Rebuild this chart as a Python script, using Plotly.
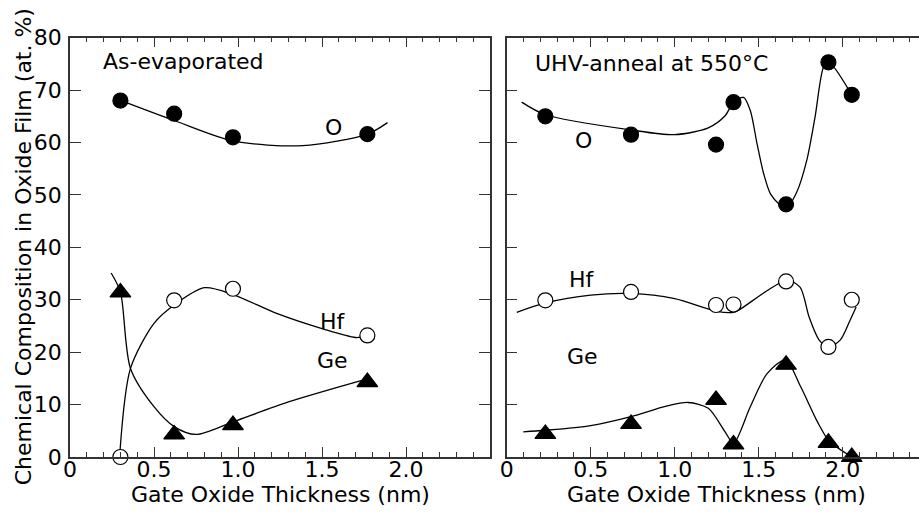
import plotly.graph_objects as go

# ---------------- data ----------------
# Left panel: as-evaporated
L_x = [0.30, 0.62, 0.97, 1.77]
L_O = [68.0, 65.5, 61.0, 61.6]
L_Hf = [0.0, 29.9, 32.1, 23.2]
L_Ge = [31.4, 4.3, 6.1, 14.3]

# fitted guide curves, left panel
L_O_fit_x = [0.32, 0.62, 0.97, 1.385, 1.77, 1.89]
L_O_fit_y = [67.8, 64.2, 60.3, 59.4, 61.6, 63.8]
L_Hf_fit_x = [0.298, 0.36, 0.50, 0.62, 0.80, 0.97, 1.23, 1.50, 1.70, 1.77]
L_Hf_fit_y = [1.3, 16.9, 25.5, 29.0, 32.3, 31.0, 27.4, 24.5, 22.8, 23.1]
L_Ge_fit_x = [0.245, 0.30, 0.36, 0.50, 0.62, 0.75, 0.97, 1.30, 1.78]
L_Ge_fit_y = [35.1, 31.5, 16.9, 9.6, 5.8, 4.3, 6.7, 10.5, 15.0]

# Right panel: UHV-anneal at 550 C
R_x = [0.23, 0.74, 1.246, 1.35, 1.663, 1.915, 2.054]
R_O = [65.0, 61.5, 59.6, 67.7, 48.2, 75.3, 69.1]
R_Hf = [29.9, 31.5, 29.0, 29.1, 33.5, 21.0, 30.0]
R_Ge = [4.4, 6.3, 10.9, 2.4, 17.6, 2.7, 0.0]

R_O_fit_x = [0.089, 0.23, 0.74, 1.00, 1.20, 1.30, 1.35, 1.41, 1.45, 1.49, 1.53,
             1.57, 1.63, 1.663, 1.726, 1.786, 1.835, 1.885, 1.915, 2.054]
R_O_fit_y = [67.7, 65.3, 62.4, 61.5, 62.8, 65.1, 67.7, 68.6, 66.1, 59.8, 54.0,
             50.2, 48.0, 47.4, 50.5, 56.6, 64.8, 74.3, 75.4, 69.1]
R_Hf_fit_x = [0.06, 0.23, 0.50, 0.74, 1.00, 1.25, 1.35, 1.38, 1.667, 1.746,
              1.80, 1.86, 1.914, 1.985, 2.04, 2.08]
R_Hf_fit_y = [27.6, 29.4, 30.9, 31.2, 30.2, 27.8, 27.6, 28.0, 33.7, 32.4,
              26.7, 22.3, 21.0, 22.3, 25.8, 28.6]
R_Ge_fit_x = [0.099, 0.23, 0.50, 0.74, 0.95, 1.08, 1.20, 1.30, 1.35, 1.45,
              1.55, 1.66, 1.75, 1.85, 1.92, 2.02, 2.054]
R_Ge_fit_y = [4.8, 5.1, 6.0, 7.7, 9.7, 10.4, 9.3, 4.8, 2.6, 9.6,
              15.9, 18.5, 13.4, 6.7, 3.0, 0.7, 0.0]

x_tickvals = [0, 0.5, 1.0, 1.5, 2.0]
x_ticktext = ["0", "0.5", "1.0", "1.5", "2.0"]
y_tickvals = [0, 10, 20, 30, 40, 50, 60, 70, 80]

FONT = "DejaVu Sans"
INK = "#000000"
AX = "#333333"

fig = go.Figure()

def curve(x, y, xa, ya):
    fig.add_trace(go.Scatter(x=x, y=y, xaxis=xa, yaxis=ya, mode="lines",
                             line=dict(color=INK, width=1.3, shape="spline", smoothing=0.8),
                             hoverinfo="skip", showlegend=False, cliponaxis=False))

def pts(x, y, xa, ya, symbol, fill, size):
    fig.add_trace(go.Scatter(x=x, y=y, xaxis=xa, yaxis=ya, mode="markers",
                             marker=dict(symbol=symbol, size=size, color=fill,
                                         line=dict(color=INK, width=1.2)),
                             showlegend=False, cliponaxis=False))

# left panel
curve(L_O_fit_x, L_O_fit_y, "x", "y")
curve(L_Hf_fit_x, L_Hf_fit_y, "x", "y")
curve(L_Ge_fit_x, L_Ge_fit_y, "x", "y")
pts(L_x, L_O, "x", "y", "circle", INK, 15)
pts(L_x, L_Hf, "x", "y", "circle", "white", 15)
pts(L_x, L_Ge, "x", "y", "triangle-up", INK, 18)

# right panel
curve(R_O_fit_x, R_O_fit_y, "x2", "y2")
curve(R_Hf_fit_x, R_Hf_fit_y, "x2", "y2")
curve(R_Ge_fit_x, R_Ge_fit_y, "x2", "y2")
pts(R_x, R_O, "x2", "y2", "circle", INK, 15)
pts(R_x, R_Hf, "x2", "y2", "circle", "white", 15)
pts(R_x, R_Ge, "x2", "y2", "triangle-up", INK, 18)

W, H = 919, 513
ydom = [(H - 457) / H, (H - 37.7) / H]

common_x = dict(showline=True, linecolor=AX, linewidth=1.5, mirror="ticks",
                ticks="inside", ticklen=10, tickwidth=1.3, tickcolor=AX,
                tickvals=x_tickvals, ticktext=x_ticktext, ticklabelstandoff=-8,
                minor=dict(dtick=0.1, ticks="inside", ticklen=5, tickwidth=1.2, tickcolor=AX),
                showgrid=False, zeroline=False, automargin=False,
                tickfont=dict(family=FONT, size=22, color=INK))
common_y = dict(showline=True, linecolor=AX, linewidth=1.5,
                ticks="inside", ticklen=11, tickwidth=1.3, tickcolor=AX,
                tickvals=y_tickvals, range=[0, 80], domain=ydom,
                showgrid=False, zeroline=False, automargin=False,
                tickfont=dict(family=FONT, size=22, color=INK))

fig.update_layout(
    template="none",
    width=W, height=H, margin=dict(l=0, r=0, t=0, b=0, autoexpand=False),
    paper_bgcolor="white", plot_bgcolor="white",
    xaxis=dict(common_x, domain=[70 / W, 490 / W], range=[0, 2.5], anchor="y"),
    xaxis2=dict(common_x, domain=[506.7 / W, 1.0], range=[0, (W - 506.7) / 168], anchor="y2"),
    yaxis=dict(common_y, mirror="ticks", anchor="x", ticklabelstandoff=2),
    yaxis2=dict(common_y, mirror=False, anchor="x2", showticklabels=False),
)

tf = dict(family=FONT, size=22, color=INK)
ann = [
    dict(text="As-evaporated", x=0.185, y=75.5, xref="x", yref="y", xanchor="left", yanchor="middle"),
    dict(text="O", x=1.568, y=62.9, xref="x", yref="y"),
    dict(text="Hf", x=1.566, y=25.9, xref="x", yref="y"),
    dict(text="Ge", x=1.565, y=18.5, xref="x", yref="y"),
    dict(text="UHV-anneal at 550°C", x=0.158, y=75.1, xref="x2", yref="y2", xanchor="left", yanchor="middle"),
    dict(text="O", x=0.458, y=60.4, xref="x2", yref="y2"),
    dict(text="Hf", x=0.451, y=33.9, xref="x2", yref="y2"),
    dict(text="Ge", x=0.454, y=19.1, xref="x2", yref="y2"),
    dict(text="Gate Oxide Thickness (nm)", x=1.25, y=(H - 494) / H, xref="x", yref="paper"),
    dict(text="Gate Oxide Thickness (nm)", x=1.25, y=(H - 494) / H, xref="x2", yref="paper"),
    dict(text="Chemical Composition in Oxide Film (at. %)", x=23 / W, y=(ydom[0] + ydom[1]) / 2,
         xref="paper", yref="paper", textangle=-90),
]
for a in ann:
    a.setdefault("xanchor", "center")
    a.setdefault("yanchor", "middle")
    a["showarrow"] = False
    a["font"] = tf
fig.update_layout(annotations=ann)

fig.write_html("out.html", config={"displayModeBar": False},
               post_script="document.body.style.margin='0px';")
